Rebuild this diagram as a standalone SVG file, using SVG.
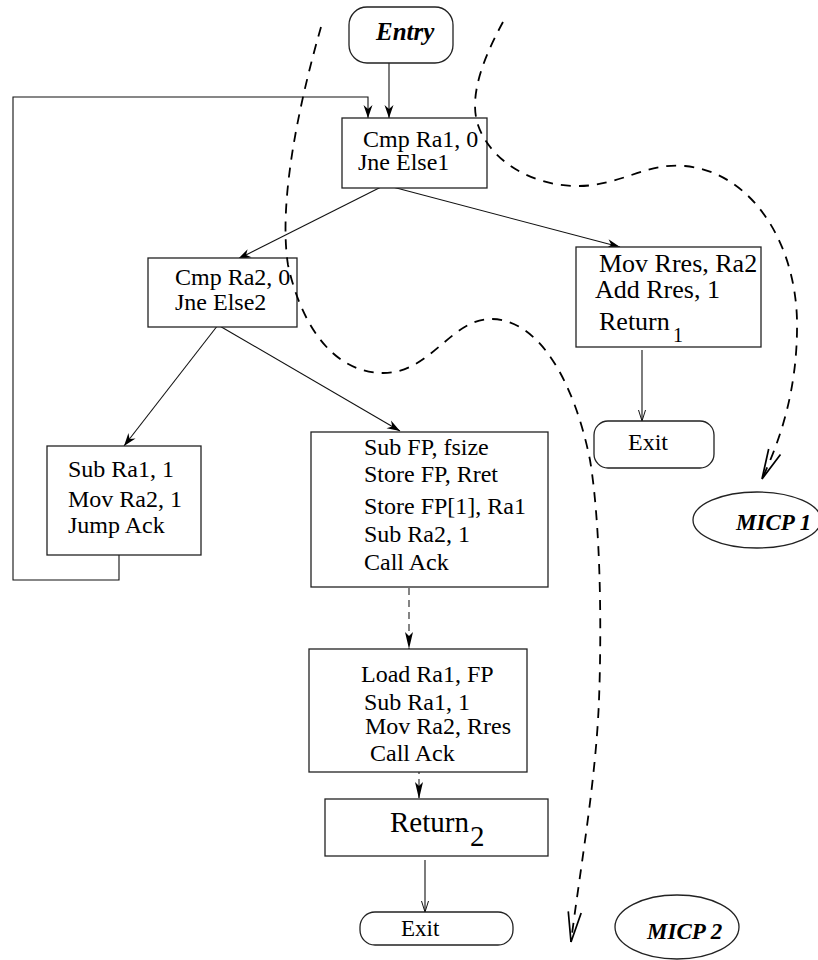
<svg xmlns="http://www.w3.org/2000/svg" width="818" height="960" viewBox="0 0 818 960">
<style>
.box{fill:#fff;stroke:#222;stroke-width:1.3}
.t{font-family:"Liberation Serif","Times New Roman",serif;font-size:24px;fill:#000}
.t26{font-size:26px}
.t20{font-size:20px}
.t23{font-size:23px}
.t29{font-size:29px}
.bi{font-family:"Liberation Serif","Times New Roman",serif;font-weight:bold;font-style:italic;fill:#000}
.e{fill:none;stroke:#111;stroke-width:1.1}
.d{fill:none;stroke:#000;stroke-width:1.8;stroke-dasharray:10 8}
.dd{fill:none;stroke:#222;stroke-width:1.1;stroke-dasharray:7 5}
</style>
<defs>
<marker id="sa" markerUnits="userSpaceOnUse" orient="auto" refX="0" refY="0" markerWidth="20" markerHeight="20" overflow="visible"><path d="M0,0 L-13,-4.5 L-9,0 L-13,4.5 Z" fill="#000"/></marker>
<marker id="oa" markerUnits="userSpaceOnUse" orient="auto" refX="0" refY="0" markerWidth="20" markerHeight="20" overflow="visible"><path d="M-11,-3.5 L0,0 L-11,3.5" fill="none" stroke="#111" stroke-width="1"/></marker>
<marker id="da" markerUnits="userSpaceOnUse" orient="auto" refX="0" refY="0" markerWidth="20" markerHeight="20" overflow="visible"><path d="M0,0 L-17,-4 L-13,0 L-17,4 Z" fill="#000"/></marker>
<marker id="va" markerUnits="userSpaceOnUse" orient="auto" refX="0" refY="0" markerWidth="40" markerHeight="20" overflow="visible"><path d="M-30,-6.5 L0,0 L-30,6.5" fill="none" stroke="#000" stroke-width="1.7"/></marker>
</defs>

<g id="connectors">
<line class="e" x1="389" y1="58" x2="389" y2="118" marker-end="url(#sa)"/>
<polyline class="e" points="119,555 119,580 13,580 13,97 368,97 368,118" marker-end="url(#sa)"/>
<line class="e" x1="385" y1="185" x2="238" y2="259" marker-end="url(#sa)"/>
<line class="e" x1="385" y1="185" x2="620" y2="247" marker-end="url(#sa)"/>
<line class="e" x1="218" y1="325" x2="124" y2="446" marker-end="url(#sa)"/>
<line class="e" x1="218" y1="325" x2="400" y2="431" marker-end="url(#sa)"/>
<line class="dd" x1="409" y1="588" x2="409" y2="649" marker-end="url(#da)"/>
<line class="dd" x1="419" y1="767" x2="419" y2="799" marker-end="url(#da)"/>
<line class="e" x1="642" y1="350" x2="642" y2="421" marker-end="url(#oa)"/>
<line class="e" x1="425" y1="860" x2="425" y2="912" marker-end="url(#oa)"/>
</g>

<g id="entry">
<rect class="box" x="349" y="7" width="104" height="56" rx="18"/>
<text class="bi" x="376" y="40" font-size="25">Entry</text>
</g>

<g id="b1">
<rect class="box" x="342" y="118" width="145" height="70"/>
<text class="t" x="363" y="147">Cmp Ra1, 0</text>
<text class="t" x="358" y="170">Jne Else1</text>
</g>

<g id="b2">
<rect class="box" x="148" y="258" width="149" height="69"/>
<text class="t" x="175" y="285">Cmp Ra2, 0</text>
<text class="t" x="175" y="310">Jne Else2</text>
</g>

<g id="b3">
<rect class="box" x="576" y="247" width="185" height="100"/>
<text class="t t26" x="599" y="272">Mov Rres, Ra2</text>
<text class="t t26" x="595" y="298">Add Rres, 1</text>
<text class="t t26" x="599" y="330">Return</text>
<text class="t t20" x="673" y="342">1</text>
</g>

<g id="exit1">
<rect class="box" x="594" y="421" width="120" height="47" rx="14"/>
<text class="t" x="628" y="450">Exit</text>
</g>

<g id="b4">
<rect class="box" x="47" y="446" width="154" height="109"/>
<text class="t" x="68" y="477">Sub Ra1, 1</text>
<text class="t" x="68" y="507">Mov Ra2, 1</text>
<text class="t" x="68" y="533">Jump Ack</text>
</g>

<g id="b5">
<rect class="box" x="311" y="432" width="237" height="155"/>
<text class="t" x="364" y="455">Sub FP, fsize</text>
<text class="t" x="364" y="482">Store FP, Rret</text>
<text class="t" x="364" y="514">Store FP[1], Ra1</text>
<text class="t" x="364" y="542">Sub Ra2, 1</text>
<text class="t" x="364" y="570">Call Ack</text>
</g>

<g id="b6">
<rect class="box" x="309" y="649" width="218" height="123"/>
<text class="t" x="361" y="682">Load Ra1, FP</text>
<text class="t" x="364" y="710">Sub Ra1, 1</text>
<text class="t" x="365" y="734">Mov Ra2, Rres</text>
<text class="t" x="370" y="761">Call Ack</text>
</g>

<g id="b7">
<rect class="box" x="325" y="799" width="223" height="57"/>
<text class="t t29" x="390" y="832">Return</text>
<text class="t t29" x="470" y="846">2</text>
</g>

<g id="exit2">
<rect class="box" x="360" y="912" width="153" height="33" rx="15"/>
<text class="t t23" x="401" y="936">Exit</text>
</g>

<g id="micp1">
<ellipse class="box" cx="757" cy="520" rx="64" ry="28"/>
<text class="bi" x="736" y="530" font-size="23">MICP 1</text>
</g>

<g id="micp2">
<ellipse class="box" cx="677" cy="927" rx="62" ry="32"/>
<text class="bi" x="647" y="939" font-size="23">MICP 2</text>
</g>

<g id="curves">
<path class="d" d="M321,27 C300,100 278,200 288,265 C300,320 330,372 382,373 C430,374 450,320 490,319 C540,318 575,385 590,460 C600,520 602,620 599,700 C596,780 580,870 571,942" marker-end="url(#va)"/>
<path class="d" d="M503,22 C485,55 468,95 478,125 C490,160 530,185 575,186 C620,187 645,162 685,166 C750,172 795,240 797,320 C798,390 780,440 762,479" marker-end="url(#va)"/>
</g>
</svg>
